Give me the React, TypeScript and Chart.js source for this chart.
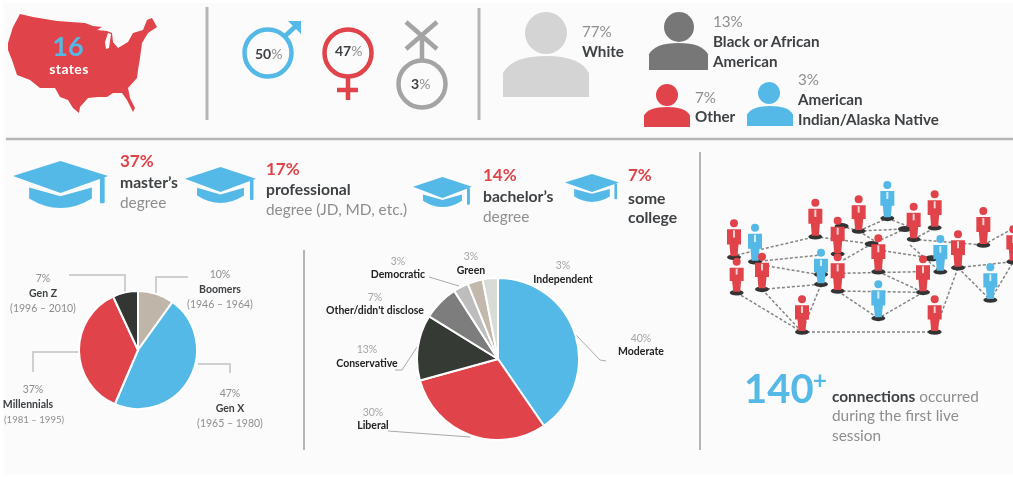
import React, { useEffect, useRef } from "react";
import { Chart, registerables } from "chart.js";

Chart.register(...registerables);

const generationLabels = ["Boomers", "Gen X", "Millennials", "Gen Z"];
const generationValues = [10, 47, 37, 7];
const generationColors = ["#bfb5a9", "#54b9e6", "#e04349", "#333632"];

const partyLabels = ["Moderate", "Liberal", "Conservative", "Other/didn't disclose", "Democratic", "Green", "Independent"];
const partyValues = [40, 30, 13, 7, 3, 3, 3];
const partyColors = ["#54b9e6", "#e04349", "#363a35", "#7d7d7d", "#bdbdbd", "#c2b8ac", "#d9dbd6"];

const BLUE = "#54b9e6";
const RED = "#e04349";
const RULE = "#b5b5b5";
const DARK = "#3f4244";
const GREY = "#8e8e8e";
const FONT = "Lato, sans-serif";
const PAPER = "#fbfbfb";

const usOutline = "20,14 33,17 57,21 85,23 93,26 102,27 97,30 107,31 112,33 113,42 118,48 128,42 133,33 143,30 147,20 152,18 157,27 148,33 142,43 140,58 138,70 137,78 128,88 130,98 135,108 133,112 127,100 122,93 113,93 107,97 98,97 88,98 80,107 79,113 73,108 68,100 60,97 55,88 40,88 30,80 17,75 12,60 8,50 8,43 13,27";
const lakeMichigan = "108,33 111,34 109,48 106,49 105,42";

// network illustration, in thirds of a pixel relative to its frame: foot x, foot y, head y, colour
type P = [number, number, number, string];
const people: P[] = [
  [562, 175, 75, BLUE], [704, 203, 103, RED], [476, 213, 118, RED], [346, 230, 128, RED],
  [641, 238, 140, RED], [850, 255, 153, RED], [413, 282, 182, RED], [102, 292, 190, RED],
  [165, 305, 203, BLUE], [940, 305, 208, RED], [774, 323, 223, RED], [721, 335, 237, BLUE],
  [535, 335, 235, RED], [363, 373, 278, BLUE], [186, 388, 290, RED], [413, 393, 292, RED],
  [669, 397, 298, RED], [110, 398, 305, RED], [871, 420, 322, BLUE], [535, 475, 373, BLUE],
  [306, 516, 418, RED], [704, 516, 418, RED],
];
const joints = [
  [306, 516, 704, 516], [110, 398, 306, 516], [186, 388, 306, 516], [363, 373, 306, 516], [704, 516, 774, 323],
  [669, 397, 535, 475], [413, 393, 535, 475], [413, 393, 669, 397], [413, 340, 669, 335], [535, 335, 669, 397],
  [186, 388, 363, 373], [165, 305, 363, 285], [186, 315, 363, 345], [110, 285, 346, 230], [346, 230, 515, 252],
  [535, 270, 700, 295], [430, 300, 515, 252], [476, 213, 562, 175], [562, 175, 641, 205], [476, 213, 615, 207],
  [641, 238, 704, 203], [641, 238, 850, 255], [515, 252, 615, 207], [850, 255, 940, 205], [774, 323, 940, 305],
  [774, 323, 871, 420], [871, 420, 940, 305], [630, 255, 721, 335], [476, 213, 535, 250], [425, 198, 476, 213],
];
const blackDots = [[515, 252], [615, 207], [695, 295], [425, 198], [363, 343]];
const nx = (v: number) => 700 + v / 3;
const ny = (v: number) => 160 + v / 3;

function Person({ x, y, head, c }: { x: number; y: number; head: number; c: string }) {
  const h = y - head;
  const arm = head + h * 0.62;
  return (
    <g>
      <ellipse cx={x} cy={y} rx={7} ry={2.8} fill="#333" />
      <circle cx={x} cy={head} r={4} fill={c} />
      <path d={`M${x - 7} ${head + 6} L${x + 7} ${head + 6} L${x + 7} ${arm} L${x + 4.5} ${arm} L${x + 3.5} ${y - 1} L${x - 3.5} ${y - 1} L${x - 4.5} ${arm} L${x - 7} ${arm} Z`} fill={c} />
      <path d={`M${x} ${head + 7} L${x} ${head + h * 0.42}`} stroke="#fff" strokeWidth={2} opacity={0.75} />
    </g>
  );
}

function Cap({ l, r, t, m, b }: { l: number; r: number; t: number; m: number; b: number }) {
  const w = r - l;
  const cx = (l + r) / 2;
  const bw = w * 0.33;
  const d = m - t;
  const ly = t + d * 0.47;
  return (
    <g fill={BLUE}>
      <polygon points={`${l},${ly} ${cx},${t} ${r},${ly} ${cx},${m}`} />
      <path d={`M${cx - bw} ${ly + d * 0.36} L${cx} ${m + d * 0.1} L${cx + bw} ${ly + d * 0.36} L${cx + bw} ${b - d * 0.3} Q${cx} ${b + d * 0.3} ${cx - bw} ${b - d * 0.3} Z`} />
      <rect x={r - w * 0.085} y={ly + 1} width={w * 0.05} height={(b - t) * 0.56} rx={1} />
    </g>
  );
}

function Bust({ hx, hy, hr, x1, x2, y1, y2, c }: { hx: number; hy: number; hr: number; x1: number; x2: number; y1: number; y2: number; c: string }) {
  const w = x2 - x1;
  return (
    <g fill={c}>
      <circle cx={hx} cy={hy} r={hr} />
      <path d={`M${x1} ${y2} L${x1} ${y1 + (y2 - y1) * 0.42} Q${x1 + w * 0.1} ${y1} ${x1 + w / 2} ${y1} Q${x2 - w * 0.1} ${y1} ${x2} ${y1 + (y2 - y1) * 0.42} L${x2} ${y2} Z`} />
    </g>
  );
}

function T({ x, y, s, w = 400, c = DARK, a = "start", ls, children }: { x: number; y: number; s: number; w?: number; c?: string; a?: string; ls?: number; children: React.ReactNode }) {
  return <text x={x} y={y} fontSize={s} fontWeight={w} fill={c} textAnchor={a as any} fontFamily={FONT} letterSpacing={ls}>{children}</text>;
}

function Pie({ labels, values, colors, left, top, size, border }: { labels: string[]; values: number[]; colors: string[]; left: number; top: number; size: number; border: number }) {
  const ref = useRef<HTMLCanvasElement>(null);
  useEffect(() => {
    const chart = new Chart(ref.current!, {
      type: "pie",
      data: { labels, datasets: [{ data: values, backgroundColor: colors, borderColor: "#ffffff", borderWidth: border }] },
      options: {
        responsive: false,
        animation: false,
        layout: { padding: 0 },
        plugins: { legend: { display: false }, tooltip: { enabled: false } },
      },
    });
    return () => chart.destroy();
  }, []);
  return <canvas ref={ref} width={size} height={size} style={{ position: "absolute", left, top, width: size, height: size }} />;
}

export default function App() {
  return (
    <div style={{ position: "absolute", left: 0, top: 0, width: 1013, height: 477, overflow: "hidden", background: "#fff" }}>
      <div style={{ position: "absolute", inset: 0, filter: "blur(0.55px)" }}>
        <svg width={1013} height={477} style={{ position: "absolute", left: 0, top: 0 }}>
          <rect x={3} y={3} width={1010} height={472} fill={PAPER} />
          <polygon points={usOutline} fill={RED} />
          <polygon points={lakeMichigan} fill={PAPER} />
          <T x={68} y={56} s={27} w={700} c={BLUE} a="middle">16</T>
          <T x={69} y={74} s={14} w={700} c="#fff" a="middle" ls={0.4}>states</T>

          <g stroke={RULE} strokeWidth={3} fill="none">
            <path d="M207 7V120" />
            <path d="M479 8V120" />
          </g>
          <path d="M6 139H1013" stroke={RULE} strokeWidth={2.5} />
          <path d="M700 152V450" stroke={RULE} strokeWidth={2} />
          <path d="M304 250V450" stroke={RULE} strokeWidth={2} />

          <g fill="none" strokeWidth={4.5}>
            <circle cx={268} cy={53} r={23.5} stroke={BLUE} />
            <path d="M284 37L297 25" stroke={BLUE} />
            <polygon points="288,21 301,21 301,34" fill={BLUE} stroke="none" />
            <circle cx={348} cy={53} r={23.5} stroke={RED} />
            <path d="M348 76V100M337 90H358" stroke={RED} />
            <circle cx={422} cy={84} r={23.5} stroke="#a4a4a4" />
            <path d="M422 60V36M406 22L437 49M437 22L406 49" stroke="#a4a4a4" />
          </g>
          <T x={255} y={59} s={14} w={700}>50<tspan fill={GREY} fontWeight={400}>%</tspan></T>
          <T x={335} y={56} s={14} w={700}>47<tspan fill={GREY} fontWeight={400}>%</tspan></T>
          <T x={411} y={89} s={14} w={700}>3<tspan fill={GREY} fontWeight={400}>%</tspan></T>

          <Bust hx={546} hy={33} hr={21} x1={503} x2={589} y1={56} y2={97} c="#d4d4d4" />
          <Bust hx={679} hy={27} hr={15} x1={649} x2={708} y1={43} y2={70} c="#777777" />
          <Bust hx={667} hy={95} hr={11} x1={644} x2={690} y1={107} y2={127} c={RED} />
          <Bust hx={769} hy={93} hr={11} x1={747} x2={793} y1={106} y2={126} c={BLUE} />
          <T x={582} y={37} s={15.2} c={GREY}>77%</T>
          <T x={582} y={57} s={15.2} w={700}>White</T>
          <T x={713} y={27} s={15.2} c={GREY}>13%</T>
          <T x={713} y={47} s={15.2} w={700}>Black or African</T>
          <T x={713} y={67} s={15.2} w={700}>American</T>
          <T x={695} y={103} s={15.2} c={GREY}>7%</T>
          <T x={695} y={122} s={15.2} w={700}>Other</T>
          <T x={798} y={85} s={15.2} c={GREY}>3%</T>
          <T x={798} y={105} s={15.2} w={700}>American</T>
          <T x={798} y={125} s={15.2} w={700}>Indian/Alaska Native</T>

          <Cap l={13} r={108} t={161} m={193} b={208} />
          <Cap l={185} r={256} t={167} m={192} b={203} />
          <Cap l={413} r={472} t={177} m={198} b={207} />
          <Cap l={565} r={619} t={174} m={192} b={202} />
          <T x={120} y={167} s={17} w={700} c={RED}>37%</T>
          <T x={120} y={188} s={15.7} w={700}>master’s</T>
          <T x={120} y={208} s={15.4} c={GREY}>degree</T>
          <T x={266} y={175} s={17} w={700} c={RED}>17%</T>
          <T x={266} y={195} s={15.7} w={700}>professional</T>
          <T x={266} y={215} s={15.4} c={GREY}>degree (JD, MD, etc.)</T>
          <T x={483} y={181} s={17} w={700} c={RED}>14%</T>
          <T x={483} y={202} s={15.7} w={700}>bachelor’s</T>
          <T x={483} y={222} s={15.4} c={GREY}>degree</T>
          <T x={628} y={181} s={17} w={700} c={RED}>7%</T>
          <T x={628} y={204} s={15.7} w={700}>some</T>
          <T x={628} y={223} s={15.7} w={700}>college</T>

          <g fill="none" stroke="#cfcfcf" strokeWidth={2}>
            <path d="M69 275H125V292" />
            <path d="M188 277H156V293" />
            <path d="M80 352H33V372" />
            <path d="M198 364H230V373" />
          </g>
          <T x={43} y={282} s={10.5} c={GREY} a="middle">7%</T>
          <T x={43} y={297} s={10.5} w={700} a="middle">Gen Z</T>
          <T x={43} y={312} s={10.5} c={GREY} a="middle">(1996 – 2010)</T>
          <T x={220} y={278} s={10.5} c={GREY} a="middle">10%</T>
          <T x={220} y={293} s={10.5} w={700} a="middle">Boomers</T>
          <T x={220} y={308} s={10.5} c={GREY} a="middle">(1946 – 1964)</T>
          <T x={33} y={393} s={10.5} c={GREY} a="middle">37%</T>
          <T x={28} y={408} s={10.5} w={700} a="middle">Millennials</T>
          <T x={4} y={423} s={9.6} c={GREY}>(1981 – 1995)</T>
          <T x={230} y={397} s={10.5} c={GREY} a="middle">47%</T>
          <T x={230} y={412} s={10.5} w={700} a="middle">Gen X</T>
          <T x={230} y={427} s={10.5} c={GREY} a="middle">(1965 – 1980)</T>

          <g fill="none" stroke="#aaaaaa" strokeWidth={1}>
            <path d="M429 277L459 286" />
            <path d="M576 335L600 360L606 361" />
            <path d="M417 347L402 370H395" />
            <path d="M388 431L470 437" />
          </g>
          <T x={398} y={265} s={10.5} c="#a5a5a5" a="middle">3%</T>
          <T x={398} y={278} s={10.5} w={700} c="#222" a="middle">Democratic</T>
          <T x={471} y={260} s={10.5} c="#a5a5a5" a="middle">3%</T>
          <T x={471} y={274} s={10.5} w={700} c="#222" a="middle">Green</T>
          <T x={563} y={269} s={10.5} c="#a5a5a5" a="middle">3%</T>
          <T x={563} y={283} s={10.5} w={700} c="#222" a="middle">Independent</T>
          <T x={641} y={342} s={10.5} c="#a5a5a5" a="middle">40%</T>
          <T x={641} y={355} s={10.5} w={700} c="#222" a="middle">Moderate</T>
          <T x={375} y={301} s={10.5} c="#a5a5a5" a="middle">7%</T>
          <T x={375} y={314} s={10.5} w={700} c="#222" a="middle">Other/didn't disclose</T>
          <T x={367} y={353} s={10.5} c="#a5a5a5" a="middle">13%</T>
          <T x={367} y={367} s={10.5} w={700} c="#222" a="middle">Conservative</T>
          <T x={373} y={416} s={10.5} c="#a5a5a5" a="middle">30%</T>
          <T x={373} y={429} s={10.5} w={700} c="#222" a="middle">Liberal</T>

          <g stroke="#858585" strokeWidth={1.5} strokeDasharray="3 2" fill="none">
            {joints.map((j, i) => <line key={i} x1={nx(j[0])} y1={ny(j[1])} x2={nx(j[2])} y2={ny(j[3])} />)}
          </g>
          {blackDots.map((d, i) => <ellipse key={i} cx={nx(d[0])} cy={ny(d[1])} rx={7} ry={3} fill="#333" />)}
          {people.map((p, i) => <Person key={i} x={nx(p[0])} y={ny(p[1])} head={ny(p[2])} c={p[3]} />)}

          <T x={744} y={403} s={40} w={700} c={BLUE}>140</T>
          <T x={813} y={389} s={24} w={700} c={BLUE}>+</T>
          <T x={832} y={402} s={15.4} w={700}>connections<tspan fill={GREY} fontWeight={400}> occurred</tspan></T>
          <T x={832} y={421} s={15.4} c={GREY}>during the first live</T>
          <T x={832} y={441} s={15.4} c={GREY}>session</T>
        </svg>
        <Pie labels={generationLabels} values={generationValues} colors={generationColors} left={78} top={290} size={120} border={2} />
        <Pie labels={partyLabels} values={partyValues} colors={partyColors} left={416} top={277} size={164} border={2} />
      </div>
    </div>
  );
}
